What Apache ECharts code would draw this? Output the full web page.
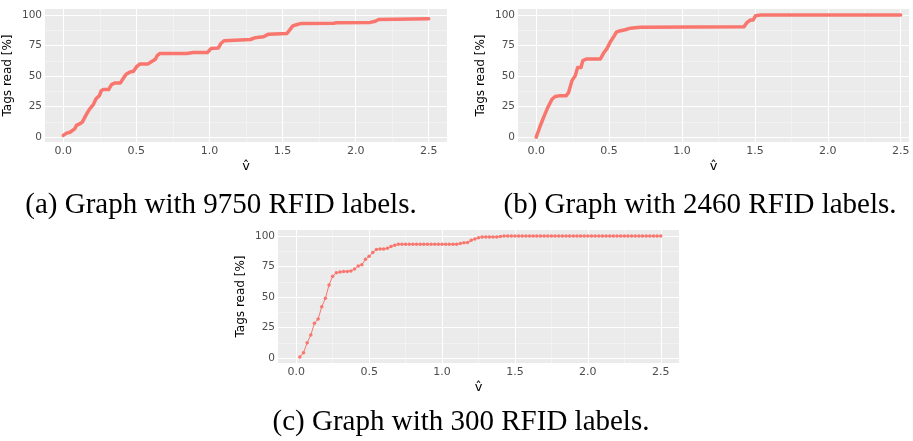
<!DOCTYPE html>
<html>
<head>
<meta charset="utf-8">
<script src="https://cdn.jsdelivr.net/npm/echarts@6/dist/echarts.min.js"></script>
<style>
html,body{margin:0;padding:0;background:#fff;}
#c{width:913px;height:441px;}
</style>
</head>
<body>
<div id="c"></div>
<script>
// ---- data ----
const xTicks = [0, 0.5, 1.0, 1.5, 2.0, 2.5];
const xMinor = [0.25, 0.75, 1.25, 1.75, 2.25];
const yTicks = [0, 25, 50, 75, 100];
const yMinor = [12.5, 37.5, 62.5, 87.5];

const captions = ['(a) Graph with 9750 RFID labels.', '(b) Graph with 2460 RFID labels.', '(c) Graph with 300 RFID labels.'];

const xA = [0.0, 0.023, 0.046, 0.057, 0.08, 0.09, 0.114, 0.13, 0.16, 0.18, 0.205, 0.224, 0.247, 0.26, 0.274, 0.31, 0.33, 0.354, 0.39, 0.41, 0.43, 0.457, 0.48, 0.50, 0.525, 0.58, 0.605, 0.628, 0.644, 0.66, 0.845, 0.89, 0.986, 1.01, 1.06, 1.078, 1.10, 1.21, 1.28, 1.31, 1.37, 1.404, 1.53, 1.548, 1.57, 1.6, 1.63, 1.85, 1.87, 2.10, 2.135, 2.157, 2.5];
const yA = [1.4, 3.3, 4, 5.5, 7, 9.6, 11, 12.3, 19, 23, 26.6, 31.5, 34, 38, 39, 39, 43, 44.4, 44.4, 48, 51.5, 53.4, 54, 57.5, 60, 60, 62, 63.6, 67, 68.5, 68.5, 69.3, 69.3, 72.6, 73, 76.7, 79, 79.5, 80, 81.4, 82.2, 84.4, 85, 87.7, 91.2, 92.3, 93.2, 93.4, 93.7, 94, 95, 96.4, 97];

const xB = [0, 0.023, 0.05, 0.078, 0.108, 0.13, 0.165, 0.206, 0.222, 0.245, 0.268, 0.284, 0.307, 0.32, 0.343, 0.44, 0.462, 0.485, 0.508, 0.53, 0.55, 0.572, 0.61, 0.646, 0.714, 1.424, 1.447, 1.47, 1.488, 1.504, 1.54, 2.5];
const yB = [0, 7.7, 16, 24, 31, 33.3, 34, 34, 36.6, 46.3, 50.4, 57, 57, 62.8, 64, 64, 68.9, 72.5, 78, 82, 86, 87, 88, 89.3, 90, 90.4, 94, 96, 96, 99.4, 100, 100];

const xC = [0.025, 0.05, 0.075, 0.1, 0.125, 0.15, 0.175, 0.2, 0.225, 0.25,
  0.275, 0.3, 0.325, 0.35, 0.375, 0.4, 0.425, 0.45, 0.475, 0.5,
  0.525, 0.55, 0.575, 0.6, 0.625, 0.65, 0.675, 0.7, 0.725, 0.75,
  0.775, 0.8, 0.825, 0.85, 0.875, 0.9, 0.925, 0.95, 0.975, 1.0,
  1.025, 1.05, 1.075, 1.1, 1.125, 1.15, 1.175, 1.2, 1.225, 1.25,
  1.275, 1.3, 1.325, 1.35, 1.375, 1.4, 1.425, 1.45, 1.475, 1.5,
  1.525, 1.55, 1.575, 1.6, 1.625, 1.65, 1.675, 1.7, 1.725, 1.75,
  1.775, 1.8, 1.825, 1.85, 1.875, 1.9, 1.925, 1.95, 1.975, 2.0,
  2.025, 2.05, 2.075, 2.1, 2.125, 2.15, 2.175, 2.2, 2.225, 2.25,
  2.275, 2.3, 2.325, 2.35, 2.375, 2.4, 2.425, 2.45, 2.475, 2.5];
const yC = [1, 4.5, 12.5, 19, 28.5, 32, 42, 49, 60, 67,
  70, 70.5, 71, 71, 71.5, 73, 75.5, 76.5, 81, 83.5,
  86.5, 89, 89.5, 89.5, 90, 91.5, 92.5, 93.3, 93.3, 93.3,
  93.3, 93.3, 93.3, 93.3, 93.3, 93.3, 93.3, 93.3, 93.3, 93.3,
  93.3, 93.3, 93.3, 93.3, 94, 94.5, 94.7, 96.5, 97.7, 98.7,
  99.3, 99.3, 99.3, 99.3, 99.3, 99.7, 100, 100, 100, 100,
  100, 100, 100, 100, 100, 100, 100, 100, 100, 100,
  100, 100, 100, 100, 100, 100, 100, 100, 100, 100,
  100, 100, 100, 100, 100, 100, 100, 100, 100, 100,
  100, 100, 100, 100, 100, 100, 100, 100, 100, 100];

// ---- chart ----
const RED = '#F8766D';
const chart = echarts.init(document.getElementById('c'), null, {renderer: 'canvas'});

const grids = [
  {left: 45, top: 9, width: 402, height: 133, xMax: 2.625},
  {left: 518, top: 9, width: 391, height: 133, xMax: 2.557},
  {left: 278, top: 230, width: 401, height: 133, xMax: 2.625}
];

function zip(xs, ys) { return xs.map((x, i) => [x, ys[i]]); }

const option = {
  animation: false,
  grid: grids.map(g => ({left: g.left, top: g.top, width: g.width, height: g.height,
    show: true, backgroundColor: '#EBEBEB', borderWidth: 0, containLabel: false})),
  xAxis: grids.map((g, i) => ({
    type: 'value', gridIndex: i, min: -0.125, max: g.xMax,
    name: 'v\u0302', nameLocation: 'middle', nameGap: 18,
    nameTextStyle: {fontFamily: 'DejaVu Sans', fontSize: 13, color: '#000'},
    axisLine: {show: false},
    axisTick: {show: true, length: 3, customValues: xTicks, lineStyle: {color: '#333', width: 1}},
    axisLabel: {customValues: xTicks, margin: 4, fontFamily: 'DejaVu Sans', fontSize: 11, color: '#4D4D4D',
      formatter: v => v.toFixed(1)},
    splitLine: {show: false}
  })),
  yAxis: grids.map((g, i) => ({
    type: 'value', gridIndex: i, min: -4, max: 105,
    name: 'Tags read [%]', nameLocation: 'middle', nameGap: 31, nameRotate: 90,
    nameTextStyle: {fontFamily: 'DejaVu Sans', fontSize: 12, color: '#000'},
    axisLine: {show: false},
    axisTick: {show: true, length: 3, customValues: yTicks, lineStyle: {color: '#333', width: 1}},
    axisLabel: {customValues: yTicks, margin: 3, fontFamily: 'DejaVu Sans', fontSize: 10.5, color: '#4D4D4D'},
    splitLine: {show: false}
  })),
  series: [],
  graphic: []
};

// gridline series
grids.forEach((g, i) => {
  const ml = [];
  xMinor.forEach(v => ml.push({xAxis: v, lineStyle: {color: '#F7F7F7', width: 0.6, type: 'solid'}}));
  yMinor.forEach(v => ml.push({yAxis: v, lineStyle: {color: '#F7F7F7', width: 0.6, type: 'solid'}}));
  xTicks.forEach(v => ml.push({xAxis: v, lineStyle: {color: '#FFFFFF', width: 1.1, type: 'solid'}}));
  yTicks.forEach(v => ml.push({yAxis: v, lineStyle: {color: '#FFFFFF', width: 1.1, type: 'solid'}}));
  option.series.push({
    type: 'line', xAxisIndex: i, yAxisIndex: i, z: 1, silent: true,
    data: [[0, 0]], symbol: 'none', lineStyle: {opacity: 0},
    markLine: {silent: true, symbol: ['none', 'none'], label: {show: false}, animation: false, data: ml}
  });
});

option.series.push({
  type: 'line', xAxisIndex: 0, yAxisIndex: 0, z: 5, data: zip(xA, yA),
  symbol: 'none', lineStyle: {color: RED, width: 3.5, join: 'round', cap: 'round'}
});
option.series.push({
  type: 'line', xAxisIndex: 1, yAxisIndex: 1, z: 5, data: zip(xB, yB),
  symbol: 'none', lineStyle: {color: RED, width: 3.5, join: 'round', cap: 'round'}
});
option.series.push({
  type: 'line', xAxisIndex: 2, yAxisIndex: 2, z: 5, data: zip(xC, yC),
  symbol: 'circle', symbolSize: 3.5, showAllSymbol: true,
  itemStyle: {color: RED}, lineStyle: {color: RED, width: 1}
});

const capPos = [[221, 205], [700, 205], [461, 422]];
captions.forEach((t, i) => {
  option.graphic.push({
    type: 'text', x: capPos[i][0], y: capPos[i][1],
    style: {text: t, font: '29px "Liberation Serif"', fill: '#000', align: 'center', verticalAlign: 'middle'}
  });
});

chart.setOption(option);
</script>
</body>
</html>
